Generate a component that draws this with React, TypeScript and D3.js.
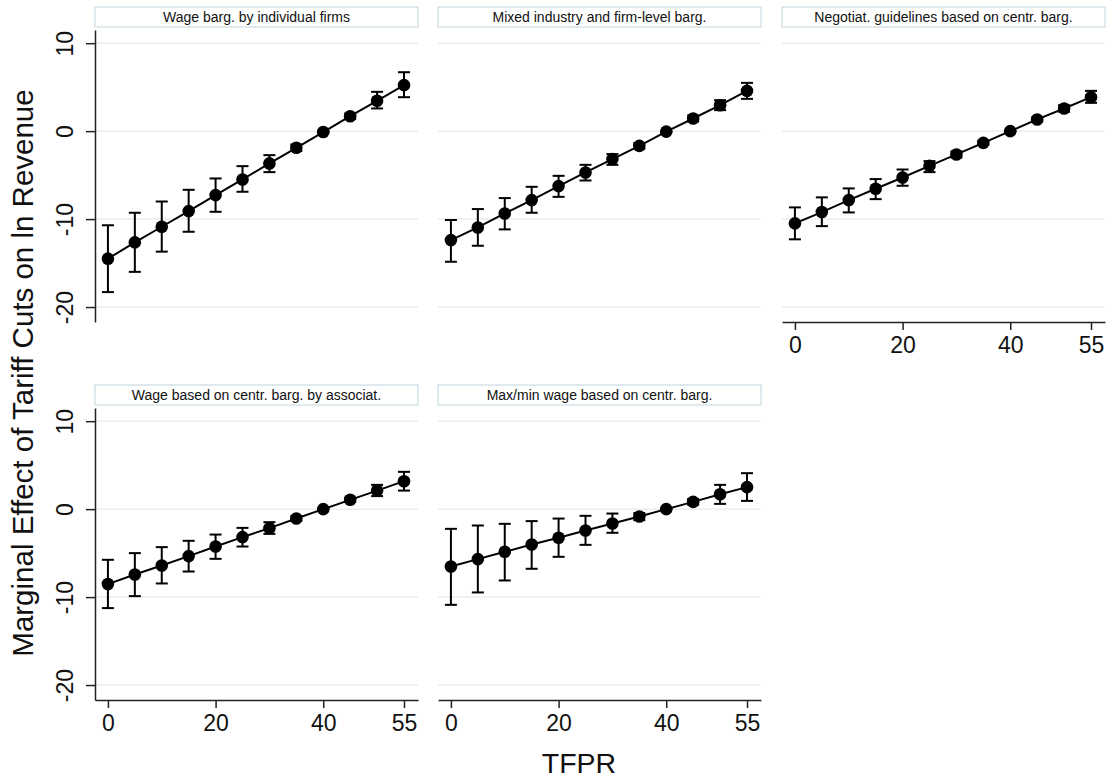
import React, { useEffect, useRef } from "react";
import * as d3 from "d3";

// TFPR grid where the marginal effect is evaluated
const tfpr = [0, 5, 10, 15, 20, 25, 30, 35, 40, 45, 50, 55];
const xTicks = [0, 20, 40, 55];
const yTicks = [-20, -10, 0, 10];

const panelTitles = [
  "Wage barg. by individual firms",
  "Mixed industry and firm-level barg.",
  "Negotiat. guidelines based on centr. barg.",
  "Wage based on centr. barg. by associat.",
  "Max/min wage based on centr. barg.",
];

// point estimates
const estIndividual = [-14.5, -12.65, -10.87, -9.09, -7.27, -5.49, -3.67, -1.89, -0.1, 1.7, 3.45, 5.23];
const estMixed = [-12.39, -10.95, -9.36, -7.84, -6.25, -4.7, -3.18, -1.67, -0.05, 1.44, 2.95, 4.58];
const estGuidelines = [-10.49, -9.2, -7.84, -6.55, -5.27, -3.94, -2.65, -1.33, 0, 1.33, 2.58, 3.86];
const estAssociat = [-8.52, -7.43, -6.41, -5.34, -4.25, -3.18, -2.16, -1.07, 0, 1.06, 2.11, 3.18];
const estMaxMin = [-6.52, -5.68, -4.85, -4.02, -3.26, -2.43, -1.63, -0.84, 0, 0.83, 1.7, 2.5];

// lower bounds of the confidence intervals
const loIndividual = [-18.3, -16.0, -13.7, -11.44, -9.17, -6.89, -4.66, -2.25, -0.15, 1.4, 2.58, 3.86];
const loMixed = [-14.85, -13.03, -11.17, -9.28, -7.47, -5.61, -3.83, -2.0, -0.08, 1.1, 2.39, 3.67];
const loGuidelines = [-12.3, -10.8, -9.24, -7.73, -6.21, -4.66, -3.0, -1.55, 0, 1.1, 2.2, 3.22];
const loAssociat = [-11.25, -9.89, -8.45, -7.09, -5.65, -4.25, -2.81, -1.35, 0, 0.8, 1.48, 2.11];
const loMaxMin = [-10.88, -9.47, -8.11, -6.78, -5.42, -4.06, -2.69, -1.25, 0, 0.5, 0.6, 0.94];

// upper bounds
const hiIndividual = [-10.7, -9.28, -8.0, -6.67, -5.38, -3.98, -2.73, -1.55, -0.05, 2.0, 4.47, 6.7];
const hiMixed = [-10.1, -8.86, -7.61, -6.33, -5.08, -3.83, -2.61, -1.35, -0.02, 1.78, 3.52, 5.49];
const hiGuidelines = [-8.67, -7.53, -6.51, -5.45, -4.36, -3.41, -2.3, -1.1, 0, 1.55, 2.95, 4.58];
const hiAssociat = [-5.76, -5.0, -4.32, -3.6, -2.89, -2.13, -1.48, -0.8, 0, 1.3, 2.76, 4.24];
const hiMaxMin = [-2.24, -1.86, -1.67, -1.36, -1.07, -0.76, -0.5, -0.45, 0, 1.15, 2.76, 4.09];

const FONT = "'Liberation Sans', Arial, Helvetica, sans-serif";

const App = () => {
  const chart = useRef<SVGSVGElement>(null);

  useEffect(() => {
    const svg = d3.select(chart.current);
    svg.selectAll("*").remove();

    const panels = [
      { title: panelTitles[0], est: estIndividual, lo: loIndividual, hi: hiIndividual },
      { title: panelTitles[1], est: estMixed, lo: loMixed, hi: hiMixed },
      { title: panelTitles[2], est: estGuidelines, lo: loGuidelines, hi: hiGuidelines },
      { title: panelTitles[3], est: estAssociat, lo: loAssociat, hi: hiAssociat },
      { title: panelTitles[4], est: estMaxMin, lo: loMaxMin, hi: hiMaxMin },
    ];

    const colLeft = [95, 438, 782];
    const rowTop = [30, 408];
    const W = 323;
    const H = 292;

    panels.forEach((p, k) => {
      const col = k % 3;
      const row = Math.floor(k / 3);
      const left = colLeft[col];
      const top = rowTop[row];
      const showX = k >= 2;
      const showY = col === 0;

      const x = d3.scaleLinear().domain([-2.4, 57.6]).range([left, left + W]);
      const y = d3.scaleLinear().domain([-21.7, 11.5]).range([top + H, top]);

      const g = svg.append("g");

      // header box
      g.append("rect")
        .attr("x", left)
        .attr("y", top - 23)
        .attr("width", W)
        .attr("height", 20)
        .attr("fill", "white")
        .attr("stroke", "#d6e2e8")
        .attr("stroke-width", 1.5);
      g.append("text")
        .attr("x", left + W / 2)
        .attr("y", top - 8.5)
        .attr("text-anchor", "middle")
        .style("font-family", FONT)
        .style("font-size", "14px")
        .attr("fill", "#111")
        .text(p.title);

      // grid
      g.selectAll("line.grid")
        .data(yTicks)
        .join("line")
        .attr("class", "grid")
        .attr("x1", left)
        .attr("x2", left + W)
        .attr("y1", (d) => y(d))
        .attr("y2", (d) => y(d))
        .attr("stroke", "#e7eff2")
        .attr("stroke-width", 1.5);

      if (showY) {
        const ay = g
          .append("g")
          .attr("transform", `translate(${left},0)`)
          .call(
            d3
              .axisLeft(y)
              .tickValues(yTicks)
              .tickSize(9)
              .tickSizeOuter(0)
              .tickFormat((d) => String(d))
          );
        ay.select(".domain").attr("stroke", "#222").attr("stroke-width", 1.5);
        ay.selectAll(".tick line").attr("stroke", "#222").attr("stroke-width", 1.5);
        ay.selectAll(".tick text")
          .attr("x", 0)
          .attr("dy", 0)
          .attr("transform", "translate(-22,0) rotate(-90)")
          .attr("text-anchor", "middle")
          .attr("fill", "#111")
          .style("font-family", FONT)
          .style("font-size", "23px");
      }

      if (showX) {
        const ax = g
          .append("g")
          .attr("transform", `translate(0,${top + H})`)
          .call(
            d3
              .axisBottom(x)
              .tickValues(xTicks)
              .tickSize(8)
              .tickSizeOuter(0)
              .tickFormat((d) => String(d))
          );
        ax.select(".domain").attr("stroke", "#222").attr("stroke-width", 1.5);
        ax.selectAll(".tick line").attr("stroke", "#222").attr("stroke-width", 1.5);
        ax.selectAll(".tick text")
          .attr("y", 31)
          .attr("dy", 0)
          .attr("fill", "#111")
          .style("font-family", FONT)
          .style("font-size", "23px");
      }

      // connecting line
      const line = d3
        .line<number>()
        .x((d, i) => x(tfpr[i]))
        .y((d) => y(d));
      g.append("path")
        .attr("d", line(p.est))
        .attr("fill", "none")
        .attr("stroke", "black")
        .attr("stroke-width", 2);

      // confidence intervals with caps
      const bars = g.selectAll("g.ci").data(tfpr).join("g").attr("class", "ci");
      bars
        .append("line")
        .attr("x1", (d) => x(d))
        .attr("x2", (d) => x(d))
        .attr("y1", (d, i) => y(p.lo[i]))
        .attr("y2", (d, i) => y(p.hi[i]))
        .attr("stroke", "black")
        .attr("stroke-width", 2);
      ["lo", "hi"].forEach((key) => {
        bars
          .append("line")
          .attr("x1", (d) => x(d) - 6)
          .attr("x2", (d) => x(d) + 6)
          .attr("y1", (d, i) => y((p as any)[key][i]))
          .attr("y2", (d, i) => y((p as any)[key][i]))
          .attr("stroke", "black")
          .attr("stroke-width", 2);
      });

      g.selectAll("circle")
        .data(p.est)
        .join("circle")
        .attr("cx", (d, i) => x(tfpr[i]))
        .attr("cy", (d) => y(d))
        .attr("r", 6.3)
        .attr("fill", "black");
    });

    svg
      .append("text")
      .attr("transform", "translate(33,373) rotate(-90)")
      .attr("text-anchor", "middle")
      .attr("fill", "#111")
      .style("font-family", FONT)
      .style("font-size", "29.5px")
      .text("Marginal Effect of Tariff Cuts on ln Revenue");

    svg
      .append("text")
      .attr("x", 579)
      .attr("y", 773)
      .attr("text-anchor", "middle")
      .attr("fill", "#111")
      .style("font-family", FONT)
      .style("font-size", "28.5px")
      .text("TFPR");
  }, []);

  return (
    <div style={{ position: "absolute", left: 0, top: 0 }}>
      <svg ref={chart} width={1110} height={778} style={{ background: "white" }}></svg>
    </div>
  );
};

export default App;
